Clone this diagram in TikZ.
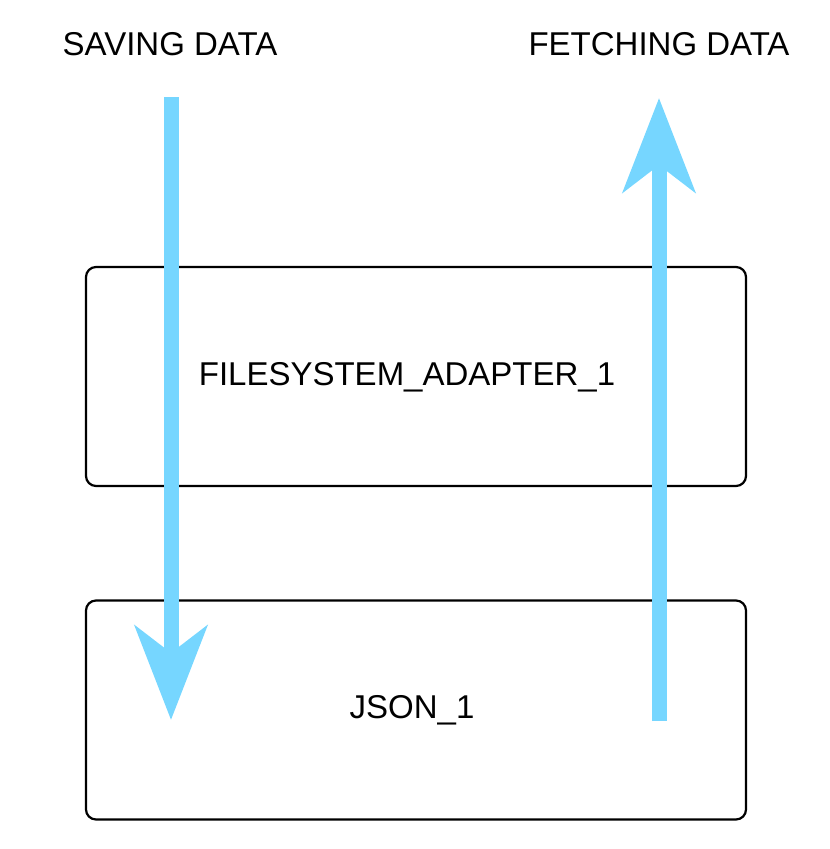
\documentclass[tikz,border=0pt]{standalone}
\usepackage{fontspec}
\setmainfont{Liberation Sans}
\definecolor{flowblue}{RGB}{118, 214, 255}
\usetikzlibrary{arrows.meta, positioning}

\begin{document}
\begin{tikzpicture}[x=1pt, y=-1pt,
  storebox/.style={draw, line width=2.2pt, rounded corners=10pt, minimum width=660pt, minimum height=219pt, inner sep=0pt},
  heading/.style={font=\fontsize{33}{39}\selectfont, inner sep=0pt},
  flow/.style={draw=flowblue, line width=15pt, -{Stealth[length=94pt, width=72pt, inset=27pt, fill=flowblue]}}
]
  \useasboundingbox (0,0) rectangle (830,849);

  \node[heading] (saving) at (170,44) {SAVING DATA};
  \node[heading] (fetching) at (659,44) {FETCHING DATA};

  \node[storebox] (adapter) at (416,376.5) {};
  \node[heading] (adapterlabel) at (407,377) {FILESYSTEM\_ADAPTER\_1};
  \node[storebox] (json) at (416,710) {};
  \node[heading] (jsonlabel) at (412,710) {JSON\_1};

  % arrows over the boxes
  \coordinate (saveTop) at (171,97);
  \coordinate (saveTip) at (171,720);
  \coordinate (fetchBottom) at (659,721);
  \coordinate (fetchTip) at (659,98);
  \draw[flow] (saveTop) -- (saveTip);
  \draw[flow] (fetchBottom) -- (fetchTip);
\end{tikzpicture}
\end{document}
